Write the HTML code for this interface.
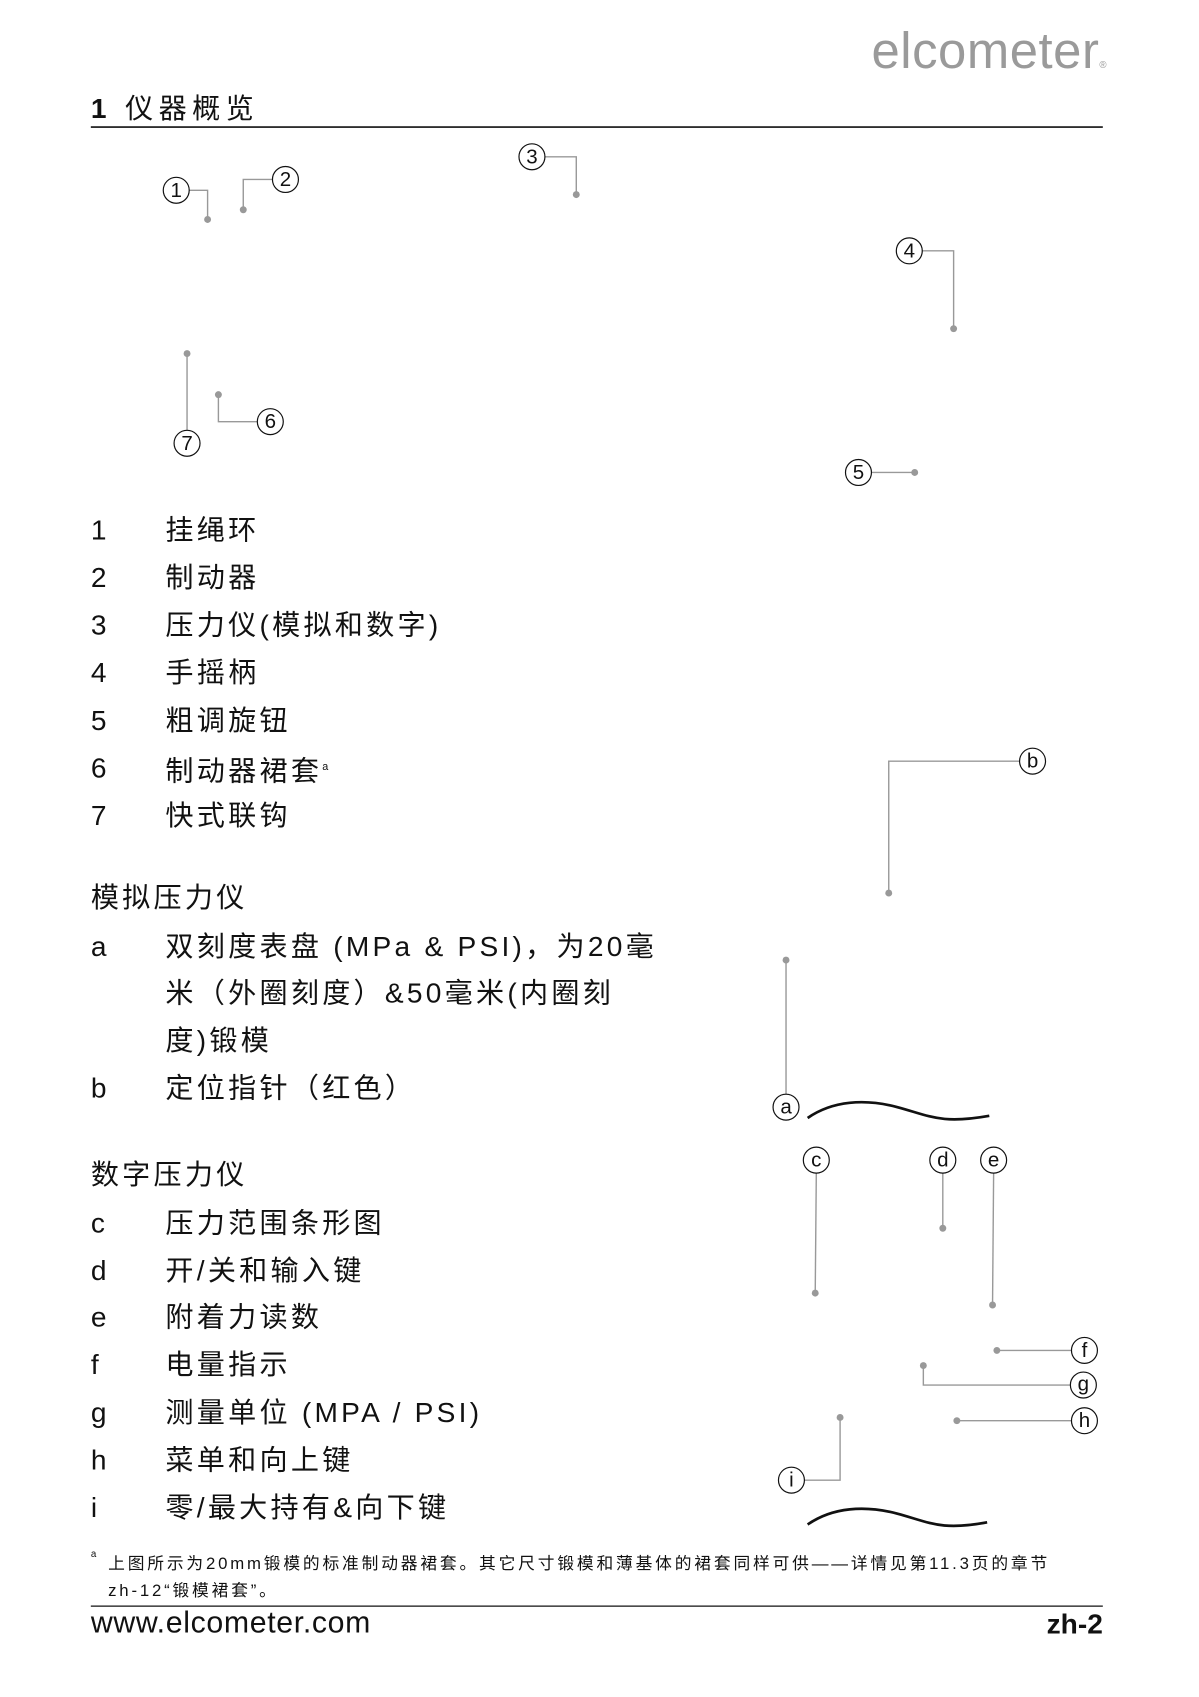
<!DOCTYPE html>
<html><head><meta charset="utf-8"><style>
html,body{margin:0;padding:0;background:#fff;}
body{width:1199px;height:1697px;overflow:hidden;position:relative;}
#p{position:absolute;left:0;top:0;width:1109px;height:1570px;transform:scale(1.0812);transform-origin:0 0;font-family:"Liberation Sans","Noto Sans CJK SC",sans-serif;color:#111;}
.t{position:absolute;font-size:26px;line-height:30px;white-space:nowrap;letter-spacing:3px;}
svg{position:absolute;left:0;top:0;}
</style></head><body><div id="p">
<div class="t" style="left:806px;top:22px;font-size:47px;line-height:50px;color:#9a9a9a;letter-spacing:0.5px;font-weight:300;">elcometer<span style="font-size:9px;letter-spacing:0">®</span></div>
<div class="t" style="left:84px;top:85px;letter-spacing:5px"><b>1</b> 仪器概览</div>
<svg width="1109" height="1570" viewBox="0 0 1109 1570">
<g stroke="#111" fill="none"><line x1="84" y1="117.5" x2="1020" y2="117.5" stroke-width="1.5"/><line x1="84" y1="1485.5" x2="1020" y2="1485.5" stroke-width="1.2"/></g>
<g stroke="#999" stroke-width="1.3" fill="none">
<polyline points="175,176 192,176 192,203"/>
<polyline points="252,166 225,166 225,194"/>
<polyline points="504,145 533,145 533,180"/>
<polyline points="853,232 882,232 882,304"/>
<polyline points="806,437 846,437"/>
<polyline points="238,390 202,390 202,365"/>
<polyline points="173,398 173,327"/>
<polyline points="943,704 822,704 822,826"/>
<polyline points="727,1012 727,888"/>
<polyline points="755,1085 754,1196"/>
<polyline points="872,1085 872,1136"/>
<polyline points="919,1085 918,1207"/>
<polyline points="991,1249 922,1249"/>
<polyline points="990,1281 854,1281 854,1263"/>
<polyline points="991,1314 885,1314"/>
<polyline points="744,1369 777,1369 777,1311"/>
</g>
<g fill="#999">
<circle cx="192" cy="203" r="3.2"/><circle cx="225" cy="194" r="3.2"/><circle cx="533" cy="180" r="3.2"/><circle cx="882" cy="304" r="3.2"/><circle cx="846" cy="437" r="3.2"/><circle cx="202" cy="365" r="3.2"/><circle cx="173" cy="327" r="3.2"/><circle cx="822" cy="826" r="3.2"/><circle cx="727" cy="888" r="3.2"/><circle cx="754" cy="1196" r="3.2"/><circle cx="872" cy="1136" r="3.2"/><circle cx="918" cy="1207" r="3.2"/><circle cx="922" cy="1249" r="3.2"/><circle cx="854" cy="1263" r="3.2"/><circle cx="885" cy="1314" r="3.2"/><circle cx="777" cy="1311" r="3.2"/>
</g>
<g stroke="#111" stroke-width="1.1" fill="#fff">
<circle cx="163" cy="176" r="12"/><circle cx="264" cy="166" r="12"/><circle cx="492" cy="145" r="12"/><circle cx="841" cy="232" r="12"/><circle cx="794" cy="437" r="12"/><circle cx="250" cy="390" r="12"/><circle cx="173" cy="410" r="12"/><circle cx="955" cy="704" r="12"/><circle cx="727" cy="1024" r="12"/><circle cx="755" cy="1073" r="12"/><circle cx="872" cy="1073" r="12"/><circle cx="919" cy="1073" r="12"/><circle cx="1003" cy="1249" r="12"/><circle cx="1002" cy="1281" r="12"/><circle cx="1003" cy="1314" r="12"/><circle cx="732" cy="1369" r="12"/>
</g>
<g font-family="Liberation Sans, sans-serif" font-size="19" text-anchor="middle" fill="#111">
<text x="163" y="182">1</text><text x="264" y="172">2</text><text x="492" y="151">3</text><text x="841" y="238">4</text><text x="794" y="443">5</text><text x="250" y="396">6</text><text x="173" y="416">7</text><text x="955" y="710">b</text><text x="727" y="1030">a</text><text x="755" y="1079">c</text><text x="872" y="1079">d</text><text x="919" y="1079">e</text><text x="1003" y="1255">f</text><text x="1002" y="1286">g</text><text x="1003" y="1320">h</text><text x="732" y="1375">i</text>
</g>
<g stroke="#111" stroke-width="2.5" fill="none">
<path d="M747,1034 C770,1018 800,1016 830,1024 C860,1032 870,1040 915,1032"/>
<path d="M747,1410 C770,1394 800,1392 830,1400 C860,1408 870,1416 913,1408"/>
</g>
</svg>
<div class="t" style="left:84px;top:475px">1</div><div class="t" style="left:153px;top:475px">挂绳环</div>
<div class="t" style="left:84px;top:519px">2</div><div class="t" style="left:153px;top:519px">制动器</div>
<div class="t" style="left:84px;top:563px">3</div><div class="t" style="left:153px;top:563px">压力仪(模拟和数字)</div>
<div class="t" style="left:84px;top:607px">4</div><div class="t" style="left:153px;top:607px">手摇柄</div>
<div class="t" style="left:84px;top:651px">5</div><div class="t" style="left:153px;top:651px">粗调旋钮</div>
<div class="t" style="left:84px;top:695px">6</div><div class="t" style="left:153px;top:695px">制动器裙套<sup style="font-size:10px">a</sup></div>
<div class="t" style="left:84px;top:739px">7</div><div class="t" style="left:153px;top:739px">快式联钩</div>
<div class="t" style="left:84px;top:815px">模拟压力仪</div>
<div class="t" style="left:84px;top:860px">a</div><div class="t" style="left:153px;top:860px">双刻度表盘 (MPa &amp; PSI)，为20毫</div>
<div class="t" style="left:153px;top:903px">米（外圈刻度）&amp;50毫米(内圈刻</div>
<div class="t" style="left:153px;top:947px">度)锻模</div>
<div class="t" style="left:84px;top:991px">b</div><div class="t" style="left:153px;top:991px">定位指针（红色）</div>
<div class="t" style="left:84px;top:1071px">数字压力仪</div>
<div class="t" style="left:84px;top:1116px">c</div><div class="t" style="left:153px;top:1116px">压力范围条形图</div>
<div class="t" style="left:84px;top:1160px">d</div><div class="t" style="left:153px;top:1160px">开/关和输入键</div>
<div class="t" style="left:84px;top:1203px">e</div><div class="t" style="left:153px;top:1203px">附着力读数</div>
<div class="t" style="left:84px;top:1247px">f</div><div class="t" style="left:153px;top:1247px">电量指示</div>
<div class="t" style="left:84px;top:1291px">g</div><div class="t" style="left:153px;top:1291px">测量单位 (MPA / PSI)</div>
<div class="t" style="left:84px;top:1335px">h</div><div class="t" style="left:153px;top:1335px">菜单和向上键</div>
<div class="t" style="left:84px;top:1379px">i</div><div class="t" style="left:153px;top:1379px">零/最大持有&amp;向下键</div>
<div class="t" style="left:84px;top:1432px;font-size:9px;line-height:10px;letter-spacing:0">a</div>
<div class="t" style="left:100px;top:1437px;font-size:15.5px;line-height:20px;letter-spacing:2.6px">上图所示为20mm锻模的标准制动器裙套。其它尺寸锻模和薄基体的裙套同样可供——详情见第11.3页的章节</div>
<div class="t" style="left:100px;top:1462px;font-size:15.5px;line-height:20px;letter-spacing:2.6px">zh-12“锻模裙套”。</div>
<div class="t" style="left:84px;top:1486px;font-size:28px;letter-spacing:0.6px">www.elcometer.com</div>
<div class="t" style="right:89px;top:1487px;font-weight:bold;letter-spacing:0">zh-2</div>
</div></body></html>
